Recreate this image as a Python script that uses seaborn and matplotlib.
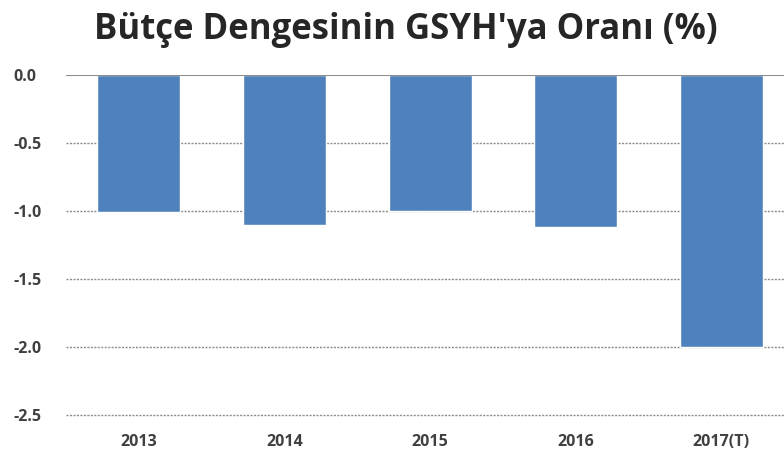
import numpy as np
import pandas as pd
import seaborn as sns
import matplotlib.pyplot as plt

years = ['2013', '2014', '2015', '2016', '2017(T)']
balance = [-1.01, -1.10, -1.00, -1.12, -2.00]
yticks = [0.0, -0.5, -1.0, -1.5, -2.0, -2.5]

df = pd.DataFrame({'year': years, 'balance': balance})

sns.set_style('white')
plt.rcParams['font.family'] = ['Open Sans', 'DejaVu Sans']

fig = plt.figure(figsize=(7.84, 4.62), dpi=100)
ax = fig.add_axes([0.0842, 0.1017, 0.9286, 0.736])

sns.barplot(data=df, x='year', y='balance', color='#4F81BD', saturation=1,
            width=0.57, ax=ax, zorder=3)

ax.set_ylim(-2.5, 0)
ax.set_yticks(yticks)
ax.set_yticklabels([f'{v:.1f}' for v in yticks])
for v in yticks[1:]:
    ax.axhline(v, color='#8c8c8c', lw=1, ls=(0, (1.5, 1)), zorder=1, clip_on=False)
ax.axhline(0, color='#8c8c8c', lw=1.5, zorder=4)

for s in ax.spines.values():
    s.set_visible(False)
ax.tick_params(axis='both', length=0, labelsize=11.5, labelcolor='#404040')
ax.tick_params(axis='x', pad=14)
for lab in ax.get_xticklabels() + ax.get_yticklabels():
    lab.set_fontweight('bold')
for lab in ax.get_yticklabels():
    lab.set_horizontalalignment('left')
ax.tick_params(axis='y', pad=38)
ax.set_xlabel('')
ax.set_ylabel('')

fig.text(0.517, 0.935, "Bütçe Dengesinin GSYH'ya Oranı (%)", ha='center', va='center',
         fontsize=25, fontweight='bold', color='#262626')

fig.savefig('out.png', dpi=100)
